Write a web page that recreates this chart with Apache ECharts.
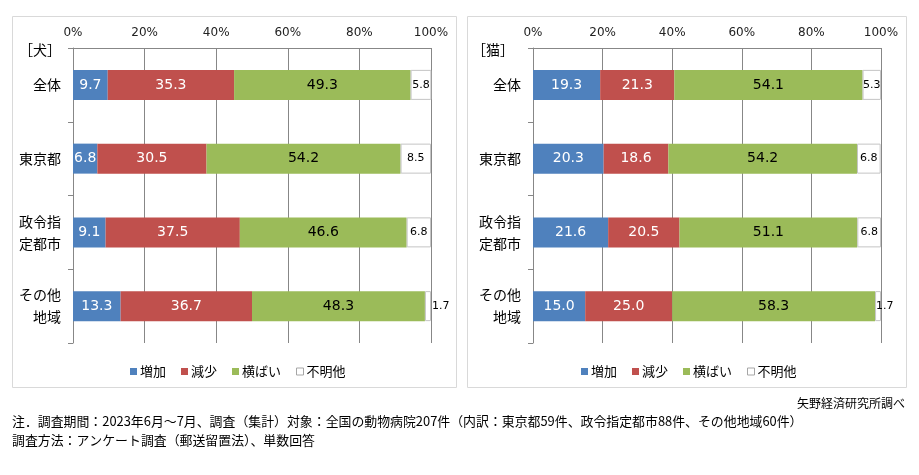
<!DOCTYPE html>
<html><head><meta charset="utf-8">
<script src="https://cdn.jsdelivr.net/npm/echarts@6/dist/echarts.min.js"></script>
<style>html,body{margin:0;padding:0;background:#fff}#c{width:919px;height:475px}</style>
</head><body><div id="c"></div>
<script>
const categories = ['全体', '東京都', '政令指\n定都市', 'その他\n地域'];
const seriesNames = ['増加', '減少', '横ばい', '不明他'];
const xTicks = [0, 20, 40, 60, 80, 100];
// 犬
const dogIncrease = [9.7, 6.8, 9.1, 13.3];
const dogDecrease = [35.3, 30.5, 37.5, 36.7];
const dogFlat = [49.3, 54.2, 46.6, 48.3];
const dogUnknown = [5.8, 8.5, 6.8, 1.7];
// 猫
const catIncrease = [19.3, 20.3, 21.6, 15.0];
const catDecrease = [21.3, 18.6, 20.5, 25.0];
const catFlat = [54.1, 54.2, 51.1, 58.3];
const catUnknown = [5.3, 6.8, 6.8, 1.7];

const colors = ['#4F81BD', '#C0504D', '#9BBB59', '#FFFFFF'];
const labelColors = ['#fff', '#fff', '#000', '#000'];
const numFont = "'DejaVu Sans', 'Noto Sans CJK JP', sans-serif";
const jpFont = "'Noto Sans CJK JP', sans-serif";
const gridColor = '#878787';

function makeSeries(arrays, idx, unknownPos) {
  return arrays.map((arr, s) => {
    const isUnknown = s === 3;
    return {
      name: seriesNames[s],
      type: 'bar',
      stack: 'total' + idx,
      xAxisIndex: idx, yAxisIndex: idx,
      barWidth: 30,
      itemStyle: isUnknown ? {color: '#fff', borderColor: '#c4c4c4', borderWidth: 1} : {color: colors[s]},
      label: {
        show: true,
        position: 'inside',
        color: labelColors[s],
        fontFamily: numFont,
        fontSize: isUnknown ? 11 : 14,
        formatter: p => Number(p.value).toFixed(1)
      },
      data: arr.map((v, i) => {
        if (isUnknown && unknownPos[i]) {
          return {value: v, label: {position: unknownPos[i], distance: 1}};
        }
        return v;
      })
    };
  });
}

const xAxisBase = {
  type: 'value', min: 0, max: 100, interval: 20, position: 'top',
  axisLabel: {formatter: '{value}%', fontFamily: numFont, fontSize: 12, color: '#222', margin: 9},
  axisLine: {show: true, lineStyle: {color: gridColor}},
  axisTick: {show: false},
  splitLine: {show: true, lineStyle: {color: gridColor, width: 1}}
};
const yAxisBase = {
  type: 'category', inverse: true, data: categories,
  axisLine: {show: true, lineStyle: {color: gridColor}},
  axisTick: {show: true, length: 5, lineStyle: {color: gridColor}},
  axisLabel: {fontFamily: jpFont, fontSize: 14, color: '#000', lineHeight: 22, margin: 12}
};

const legendData = seriesNames.map((n, i) => i === 3
  ? {name: n, itemStyle: {color: '#fff', borderColor: '#a6a6a6', borderWidth: 1}}
  : {name: n, itemStyle: {color: colors[i]}});
const legendBase = {
  top: 360, itemWidth: 7, itemHeight: 7, itemGap: 15, icon: 'rect',
  textStyle: {fontFamily: jpFont, fontSize: 13, color: '#000', padding: [0, 0, 0, -2]},
  data: legendData
};

const option = {
  animation: false,
  grid: [
    {left: 73, top: 48, width: 358, height: 295},
    {left: 533, top: 48, width: 348, height: 295}
  ],
  xAxis: [Object.assign({gridIndex: 0}, xAxisBase), Object.assign({gridIndex: 1}, xAxisBase)],
  yAxis: [Object.assign({gridIndex: 0}, yAxisBase), Object.assign({gridIndex: 1}, yAxisBase)],
  legend: [
    Object.assign({left: 125}, legendBase),
    Object.assign({left: 576}, legendBase)
  ],
  series: [].concat(
    makeSeries([dogIncrease, dogDecrease, dogFlat, dogUnknown], 0, [null, null, null, 'right']),
    makeSeries([catIncrease, catDecrease, catFlat, catUnknown], 1, [null, null, null, 'insideLeft'])
  ),
  graphic: [
    {type: 'rect', silent: true, z: -1, shape: {x: 12.5, y: 16.5, width: 444, height: 371}, style: {fill: 'none', stroke: '#d9d9d9', lineWidth: 1}},
    {type: 'rect', silent: true, z: -1, shape: {x: 467.5, y: 16.5, width: 439, height: 371}, style: {fill: 'none', stroke: '#d9d9d9', lineWidth: 1}},
    {type: 'text', left: 19, top: 43, style: {text: '［犬］', font: "14px 'Noto Sans CJK JP'", fill: '#000'}},
    {type: 'text', left: 472, top: 43, style: {text: '［猫］', font: "14px 'Noto Sans CJK JP'", fill: '#000'}},
    {type: 'text', right: 14, top: 397, style: {text: '矢野経済研究所調べ', font: "12px 'Noto Sans CJK JP'", fill: '#000'}},
    {type: 'text', left: 12, top: 415, style: {text: '注．調査期間：2023年6月～7月、調査（集計）対象：全国の動物病院207件（内訳：東京都59件、政令指定都市88件、その他地域60件）', font: "12.9px 'Noto Sans CJK JP'", fill: '#000'}},
    {type: 'text', left: 12, top: 434, style: {text: '調査方法：アンケート調査（郵送留置法）、単数回答', font: "12.9px 'Noto Sans CJK JP'", fill: '#000'}}
  ]
};
const chart = echarts.init(document.getElementById('c'), null, {renderer: 'canvas'});
chart.setOption(option);
</script></body></html>
